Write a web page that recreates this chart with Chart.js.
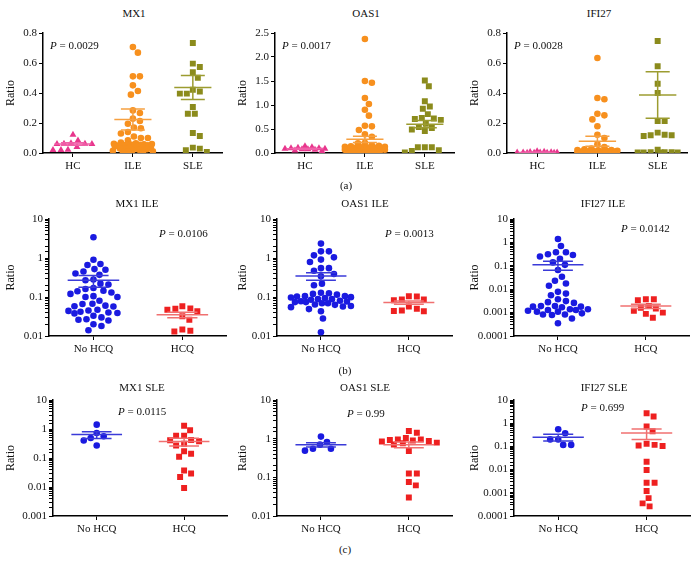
<!DOCTYPE html>
<html>
<head>
<meta charset="utf-8">
<script src="https://cdn.jsdelivr.net/npm/chart.js@4"></script>
<style>
  body { margin: 0; background: #fff; width: 696px; height: 571px; position: relative; overflow: hidden;
         font-family: 'Liberation Serif', 'Times New Roman', serif; }
  canvas { position: absolute; }
  .t { position: absolute; font-size: 11px; color: #111; white-space: nowrap; line-height: 1; z-index: 2; }
</style>
</head>
<body>
<script>
// groups
const groupsA = ['HC', 'ILE', 'SLE'];
const groupsB = ['No HCQ', 'HCQ'];

// (a) ratios by group
const mx1HC = [0.122, 0.084, 0.065, 0.062, 0.062, 0.06, 0.06, 0.04, 0.022, 0.02, 0.02];
const mx1ILE = [0.707, 0.669, 0.511, 0.511, 0.451, 0.413, 0.389, 0.284, 0.267, 0.229, 0.213, 0.195, 0.17, 0.165, 0.14, 0.13, 0.11, 0.1, 0.1, 0.085, 0.07, 0.065, 0.062, 0.06, 0.058, 0.056, 0.055, 0.054, 0.052, 0.05, 0.05, 0.048, 0.046, 0.045, 0.04, 0.038, 0.035, 0.032, 0.03, 0.025, 0.022, 0.02, 0.015, 0.012, 0.01, 0.006, 0.004];
const mx1SLE = [0.733, 0.596, 0.573, 0.538, 0.502, 0.422, 0.41, 0.396, 0.396, 0.307, 0.262, 0.262, 0.133, 0.113, 0.036, 0.029, 0.018, 0.007];
const mx1Mean = [0.06, 0.224, 0.436];
const mx1Sem = [0.008, 0.07, 0.08];

const oas1HC = [0.14, 0.12, 0.11, 0.1, 0.1, 0.09, 0.09, 0.08, 0.08, 0.07, 0.05, 0.04];
const oas1ILE = [2.375, 1.5, 1.465, 1.146, 1.02, 0.9, 0.778, 0.569, 0.555, 0.48, 0.389, 0.34, 0.215, 0.2, 0.16, 0.15, 0.14, 0.13, 0.13, 0.12, 0.12, 0.11, 0.11, 0.1, 0.1, 0.1, 0.09, 0.09, 0.09, 0.08, 0.08, 0.07, 0.07, 0.06, 0.06, 0.05, 0.05, 0.04, 0.04, 0.03, 0.03, 0.02, 0.01, 0.01];
const oas1SLE = [1.51, 1.39, 1.08, 0.97, 0.92, 0.81, 0.73, 0.72, 0.71, 0.69, 0.61, 0.54, 0.52, 0.49, 0.46, 0.12, 0.12, 0.12, 0.06, 0.04, 0.01];
const oas1Mean = [0.09, 0.285, 0.6];
const oas1Sem = [0.01, 0.065, 0.075];

const ifi27HC = [0.012, 0.008, 0.006, 0.005, 0.004, 0.004, 0.003, 0.003, 0.002, 0.002, 0.001, 0.001];
const ifi27ILE = [0.633, 0.367, 0.358, 0.262, 0.251, 0.224, 0.178, 0.122, 0.1, 0.058, 0.04, 0.03, 0.025, 0.02, 0.02, 0.018, 0.015, 0.015, 0.012, 0.012, 0.01, 0.01, 0.01, 0.008, 0.008, 0.008, 0.006, 0.006, 0.006, 0.005, 0.005, 0.004, 0.004, 0.004, 0.003, 0.003, 0.003, 0.002, 0.002, 0.002, 0.001, 0.001, 0.001, 0.001, 0.0005];
const ifi27SLE = [0.747, 0.578, 0.462, 0.4, 0.213, 0.213, 0.136, 0.122, 0.118, 0.118, 0.113, 0.022, 0.006, 0.005, 0.005, 0.004, 0.004, 0.003, 0.003];
const ifi27Mean = [0.004, 0.078, 0.387];
const ifi27Sem = [0.001, 0.033, 0.155];

// (b) ILE, no HCQ vs HCQ
const mx1IleNo = [3.4, 0.9, 0.7, 0.66, 0.52, 0.5, 0.45, 0.4, 0.37, 0.28, 0.27, 0.22, 0.21, 0.17, 0.16, 0.145, 0.14, 0.13, 0.12, 0.105, 0.1, 0.1, 0.08, 0.067, 0.066, 0.06, 0.058, 0.057, 0.047, 0.045, 0.044, 0.042, 0.04, 0.039, 0.038, 0.033, 0.03, 0.027, 0.026, 0.025, 0.02, 0.018, 0.014];
const mx1IleHcq = [0.058, 0.051, 0.05, 0.047, 0.043, 0.032, 0.026, 0.0146, 0.0137, 0.013];
const mx1IleMean = [0.267, 0.035];
const mx1IleSem = [0.09, 0.0055];

const oas1IleNo = [2.34, 1.48, 1.48, 1.17, 1.04, 0.91, 0.79, 0.55, 0.55, 0.47, 0.39, 0.34, 0.22, 0.2, 0.128, 0.125, 0.12, 0.115, 0.105, 0.105, 0.103, 0.099, 0.097, 0.094, 0.088, 0.088, 0.085, 0.08, 0.078, 0.077, 0.074, 0.074, 0.069, 0.069, 0.064, 0.063, 0.059, 0.057, 0.055, 0.049, 0.043, 0.028, 0.0125];
const oas1IleHcq = [0.104, 0.103, 0.087, 0.086, 0.083, 0.057, 0.05, 0.045, 0.044, 0.043];
const oas1IleMean = [0.344, 0.072];
const oas1IleSem = [0.075, 0.007];

const ifi27IleNo = [1.4, 0.7, 0.38, 0.38, 0.31, 0.29, 0.25, 0.2, 0.14, 0.11, 0.066, 0.034, 0.023, 0.0176, 0.014, 0.0077, 0.0065, 0.0055, 0.0037, 0.0031, 0.0028, 0.0026, 0.0019, 0.0019, 0.0018, 0.0018, 0.0017, 0.0014, 0.0014, 0.0013, 0.0013, 0.0012, 0.0011, 0.0011, 0.00093, 0.00083, 0.00083, 0.00079, 0.00056, 0.00035];
const ifi27IleHcq = [0.0037, 0.0037, 0.0034, 0.0019, 0.0016, 0.0015, 0.0012, 0.001, 0.00088, 0.0006];
const ifi27IleMean = [0.11, 0.0019];
const ifi27IleSem = [0.045, 0.0004];

// (c) SLE, no HCQ vs HCQ
const mx1SleNo = [1.41, 0.73, 0.56, 0.49, 0.4, 0.27];
const mx1SleHcq = [1.3, 0.9, 0.59, 0.59, 0.42, 0.41, 0.38, 0.31, 0.27, 0.17, 0.14, 0.11, 0.037, 0.029, 0.022, 0.0093];
const mx1SleMean = [0.64, 0.37];
const mx1SleSem = [0.17, 0.11];

const oas1SleNo = [1.13, 0.82, 0.7, 0.55, 0.55, 0.49];
const oas1SleHcq = [1.58, 1.43, 1.04, 0.96, 0.96, 0.92, 0.9, 0.87, 0.84, 0.79, 0.76, 0.71, 0.48, 0.125, 0.125, 0.076, 0.062, 0.03];
const oas1SleMean = [0.7, 0.7];
const oas1SleSem = [0.09, 0.12];

const ifi27SleNo = [0.55, 0.37, 0.2, 0.2, 0.116, 0.116];
const ifi27SleHcq = [2.7, 1.94, 0.72, 0.45, 0.13, 0.116, 0.11, 0.105, 0.022, 0.0097, 0.0027, 0.0027, 0.0012, 0.00059, 0.00035, 0.00026];
const ifi27SleMean = [0.25, 0.38];
const ifi27SleSem = [0.08, 0.18];

const FONT = "'Liberation Serif', 'Times New Roman', serif";
const PINK = '#e8358c', ORANGE = '#f7901e', OLIVE = '#8b8b1c', BLUE = '#1a1ae0', RED = '#ee2020';

const styleA = {
  cats: groupsA, shapes: ['triangle', 'circle', 'rect'], radius: [4, 3.3, 4.2],
  colors: [PINK, ORANGE, OLIVE], lines: ['#f060a8', '#f6a040', '#9c9c30'], mw: 0.31, cw: 0.2, spread: 20, gap: 7
};
const styleB = {
  cats: groupsB, shapes: ['circle', 'rect'], radius: [3.3, 4.2],
  colors: [BLUE, RED], lines: ['#3a3ad8', '#f07070'], mw: 0.29, cw: 0.17, spread: 30, gap: 7.4
};

const lin = (max, step) => ({ type: 'linear', min: 0, max: max, step: step });
const log = (min) => ({ type: 'logarithmic', min: min, max: 10 });

const panels = [
  { ...styleA, base: 0,   box: [43, 33, 223, 153],  data: [mx1HC, mx1ILE, mx1SLE], mean: mx1Mean, sem: mx1Sem, y: lin(0.8, 0.2) },
  { ...styleA, base: 232, box: [275, 33, 455, 153], data: [oas1HC, oas1ILE, oas1SLE], mean: oas1Mean, sem: oas1Sem, y: lin(2.5, 0.5) },
  { ...styleA, base: 464, box: [507, 33, 688, 153], data: [ifi27HC, ifi27ILE, ifi27SLE], mean: ifi27Mean, sem: ifi27Sem, y: lin(0.8, 0.2) },
  { ...styleB, base: 0,   box: [49, 219, 227, 336],  data: [mx1IleNo, mx1IleHcq], mean: mx1IleMean, sem: mx1IleSem, y: log(0.01) },
  { ...styleB, base: 232, box: [277, 219, 453, 336], data: [oas1IleNo, oas1IleHcq], mean: oas1IleMean, sem: oas1IleSem, y: log(0.01) },
  { ...styleB, base: 464, box: [514, 219, 690, 336], data: [ifi27IleNo, ifi27IleHcq], mean: ifi27IleMean, sem: ifi27IleSem, y: log(0.0001) },
  { ...styleB, base: 0,   box: [53, 400, 228, 516],  data: [mx1SleNo, mx1SleHcq], mean: mx1SleMean, sem: mx1SleSem, y: log(0.001) },
  { ...styleB, base: 232, box: [277, 400, 453, 516], data: [oas1SleNo, oas1SleHcq], mean: oas1SleMean, sem: oas1SleSem, y: log(0.01) },
  { ...styleB, base: 464, box: [514, 400, 691, 516], data: [ifi27SleNo, ifi27SleHcq], mean: ifi27SleMean, sem: ifi27SleSem, y: log(0.0001) }
];

// spread points sideways so they don't sit on top of each other (like a dot plot)
function swarm(vals, ci, frac, ph, unit, spread, D) {
  const placed = [], out = [];
  vals.slice().sort((a, b) => b - a).forEach(v => {
    const py = frac(v) * ph;
    let best = 0, bestD = -1;
    for (let k = 0; k <= spread * 2; k++) {
      const off = k % 2 ? (k + 1) / 2 : -k / 2;
      let dmin = Infinity;
      for (const q of placed) {
        const d = Math.hypot(q[0] - off, q[1] - py);
        if (d < dmin) dmin = d;
      }
      if (dmin >= D) { best = off; break; }
      if (dmin > bestD) { bestD = dmin; best = off; }
    }
    placed.push([best, py]);
    out.push({ x: ci + best / unit, y: v });
  });
  return out;
}

function makeChart(p) {
  const [L, T, R, B] = p.box;
  const padTop = 14, xh = 26;
  const cv = document.createElement('canvas');
  cv.width = R - p.base + 4;
  cv.height = B - T + padTop + xh;
  cv.style.left = p.base + 'px';
  cv.style.top = (T - padTop) + 'px';
  document.body.appendChild(cv);

  const n = p.cats.length;
  const unit = (R - L) / n, ph = B - T;
  const isLog = p.y.type === 'logarithmic';
  const frac = v => isLog
    ? (Math.log10(v) - Math.log10(p.y.min)) / (Math.log10(p.y.max) - Math.log10(p.y.min))
    : (v - p.y.min) / (p.y.max - p.y.min);

  const datasets = [];
  p.data.forEach((vals, i) => {
    datasets.push({
      data: swarm(vals, i, frac, ph, unit, p.spread, p.gap),
      pointStyle: p.shapes[i], pointRadius: p.radius[i],
      backgroundColor: p.colors[i], borderWidth: 0, order: 2
    });
    const m = p.mean[i], s = p.sem[i];
    const segs = [
      [[i - p.mw, m], [i + p.mw, m]],
      [[i - p.cw, m + s], [i + p.cw, m + s]],
      [[i - p.cw, m - s], [i + p.cw, m - s]],
      [[i, m - s], [i, m + s]]
    ];
    segs.forEach(sg => datasets.push({
      data: sg.map(([x, y]) => ({ x, y })), showLine: true, pointRadius: 0,
      borderColor: p.lines[i], borderWidth: 1.5, order: 1
    }));
  });

  const tickFont = { family: FONT, size: 11 };
  const yScale = {
    type: p.y.type, min: p.y.min, max: p.y.max,
    grid: { drawOnChartArea: false, tickLength: 4, color: '#000' },
    border: { color: '#000', width: 1.5 },
    title: { display: true, text: 'Ratio', font: { family: FONT, size: 12 }, color: '#111', padding: { top: 4, bottom: 0 } },
    afterFit: s => { s.width = L - p.base; }
  };
  if (isLog) {
    yScale.ticks = {
      autoSkip: false, font: tickFont, color: '#111', padding: 2,
      callback: v => {
        const l = Math.log10(v);
        return Math.abs(l - Math.round(l)) < 1e-6 ? String(Number(v.toPrecision(1))) : '';
      }
    };
  } else {
    yScale.ticks = { stepSize: p.y.step, font: tickFont, color: '#111', padding: 2, callback: v => v.toFixed(1) };
  }

  new Chart(cv, {
    type: 'scatter',
    data: { datasets: datasets },
    options: {
      responsive: false, animation: false, devicePixelRatio: 1,
      layout: { padding: { top: padTop, right: 4, left: 0, bottom: 0 } },
      plugins: { legend: { display: false }, tooltip: { enabled: false } },
      scales: {
        x: {
          type: 'linear', min: -0.5, max: n - 0.5,
          afterBuildTicks: s => { s.ticks = p.cats.map((c, i) => ({ value: i })); },
          ticks: { callback: v => p.cats[Math.round(v)], font: tickFont, color: '#111', padding: 3, autoSkip: false, maxRotation: 0 },
          grid: { drawOnChartArea: false, tickLength: 4, color: '#000' },
          border: { color: '#000', width: 1.5 },
          afterFit: s => { s.height = xh; }
        },
        y: yScale
      }
    }
  });
}

panels.forEach(makeChart);

// titles, p values and panel letters
function addText(html, x, y, center) {
  const d = document.createElement('div');
  d.className = 't';
  d.innerHTML = html;
  d.style.left = x + 'px';
  d.style.top = y + 'px';
  d.style.transform = center ? 'translate(-50%,-50%)' : 'translateY(-50%)';
  document.body.appendChild(d);
}
const titles = [['MX1', 134, 13], ['OAS1', 366, 13], ['IFI27', 599, 13],
  ['MX1 ILE', 137, 203], ['OAS1 ILE', 365, 203], ['IFI27 ILE', 603, 203],
  ['MX1 SLE', 142, 387], ['OAS1 SLE', 365, 387], ['IFI27 SLE', 604, 387]];
titles.forEach(t => addText(t[0], t[1], t[2], true));
const pvals = [['0.0029', 50, 45], ['0.0017', 282, 45], ['0.0028', 514, 45],
  ['0.0106', 159, 233], ['0.0013', 385, 233], ['0.0142', 621, 228],
  ['0.0115', 118, 411], ['0.99', 347, 413], ['0.699', 581, 407]];
pvals.forEach(t => addText('<i>P</i> = ' + t[0], t[1], t[2], false));
addText('(a)', 346, 185, true);
addText('(b)', 345, 370, true);
addText('(c)', 345, 549, true);
</script>
</body>
</html>
